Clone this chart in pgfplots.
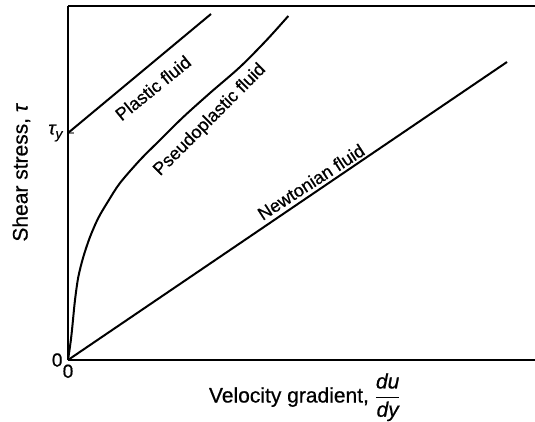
\documentclass[border=0pt]{standalone}
\usepackage{amsmath}
\usepackage{pgfplots}
\pgfplotsset{compat=1.18}
\usepackage{fontspec}
\setmainfont{Liberation Sans}[FakeBold=0.6]

\begin{document}
\begin{tikzpicture}
\begin{axis}[
    name=ax,
    scale only axis,
    width=467pt, height=354pt,
    xmin=0, xmax=467, ymin=0, ymax=354,
    axis x line*=box, axis y line*=left,
    axis line style={line width=1.6pt, -},
    xtick={0}, xticklabels={0},
    ytick={0,227}, yticklabels={0,{\itshape τ\raisebox{-0.4ex}{\fontsize{14}{15}\selectfont y}}},
    tick align=inside,
    major tick length=6pt,
    xtick style={draw=none},
    ytick style={line width=1.4pt},
    tick label style={font=\fontsize{19}{21}\selectfont},
    xticklabel style={yshift=-1pt},
    yticklabel style={xshift=-2pt},
    xlabel={Velocity gradient, $\dfrac{\textit{du}}{\textit{dy}}$},
    ylabel={Shear stress, \textit{τ}},
    label style={font=\fontsize{21}{24}\selectfont},
    xlabel style={at={(axis description cs:0.507,-0.105)}, anchor=center},
    ylabel style={at={(axis description cs:-0.1,0.53)}, anchor=center},
    clip=false,
]
% Newtonian fluid
\addplot[black, line width=2pt] coordinates {(0,0) (439,298)};
% Plastic fluid
\addplot[black, line width=2pt] coordinates {(0,227) (143,346)};
% Pseudoplastic fluid
\addplot[black, line width=2pt, smooth, tension=0.5] coordinates {
    (0,0) (1.5,10) (3,21) (4.3,33) (7,60) (10.3,83) (15.3,103) (22,123)
    (30.3,142) (40.3,159) (52,177) (72,200) (92,220) (115.3,243)
    (142,267) (172,293) (198.7,320) (220.3,344)
};
\node[rotate=39, font=\fontsize{18}{20}\selectfont] at (axis cs:85,272) {Plastic fluid};
\node[rotate=45, font=\fontsize{18}{20}\selectfont] at (axis cs:142,240) {Pseudoplastic fluid};
\node[rotate=33, font=\fontsize{18}{20}\selectfont] at (axis cs:243,178) {Newtonian fluid};
\end{axis}
\pgfresetboundingbox
\path[use as bounding box] ([xshift=-68pt,yshift=-61pt]ax.south west) rectangle ([yshift=6pt]ax.north east);
\end{tikzpicture}
\end{document}
